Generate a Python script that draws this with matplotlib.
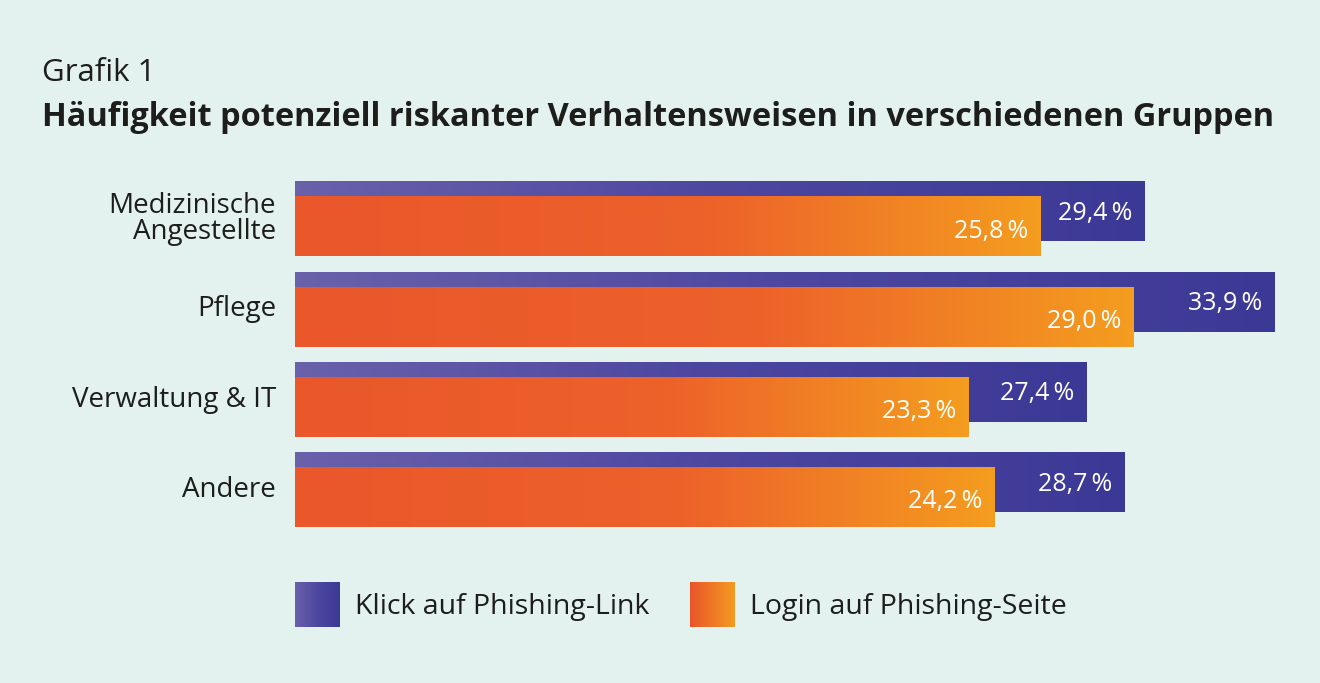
import matplotlib

matplotlib.use("Agg")

import matplotlib.pyplot as plt
import numpy as np
from matplotlib.colors import LinearSegmentedColormap


CATEGORIES = ["Medizinische\nAngestellte", "Pflege", "Verwaltung & IT", "Andere"]
KLICK = [29.4, 33.9, 27.4, 28.7]
LOGIN = [25.8, 29.0, 23.3, 24.2]
SERIES_NAMES = ["Klick auf Phishing-Link", "Login auf Phishing-Seite"]

BG = "#e3f2ef"
TEXT = "#1d1d1b"
PURPLE = LinearSegmentedColormap.from_list("purple", ["#6a61ab", "#4d47a0", "#3c3996"])
ORANGE = LinearSegmentedColormap.from_list(
    "orange", [(0.0, "#e9572b"), (0.55, "#ed612a"), (1.0, "#f49d1f")]
)
ORANGE_KEY = LinearSegmentedColormap.from_list("orange_key", ["#e8552b", "#f49b20"])
FONT = ["Open Sans", "Noto Sans", "DejaVu Sans"]

W, H = 1320, 683
PX_PER_PCT = 28.9
PITCH = 90.3
BAR_H = 0.66
SHIFT = 0.083


def gradient_bar(ax, x0, x1, y0, y1, cmap):
    grad = np.linspace(0, 1, 256).reshape(1, -1)
    ax.imshow(grad, cmap=cmap, aspect="auto", extent=[x0, x1, y1, y0],
              interpolation="bicubic", zorder=2)


def fmt(v):
    return f"{v:.1f}".replace(".", ",") + "\u2009%"


def main():
    plt.rcParams["font.family"] = FONT
    fig = plt.figure(figsize=(W / 100, H / 100), dpi=100, facecolor=BG)

    # axes in pixel coords: left 295 -> right 1300, top 170 -> bottom 550
    ax = fig.add_axes([295 / W, 1 - 550 / H, 1005 / W, 380 / H])
    ax.set_facecolor("none")
    y_top = (170 - 219) / PITCH
    y_bot = (550 - 219) / PITCH
    ax.axis("off")

    for i, (k, l) in enumerate(zip(KLICK, LOGIN)):
        yp = i - SHIFT
        yo = i + SHIFT
        gradient_bar(ax, 0, k, yp - BAR_H / 2, yp + BAR_H / 2, PURPLE)
        gradient_bar(ax, 0, l, yo - BAR_H / 2, yo + BAR_H / 2, ORANGE)
        ax.text(k - 0.42, yp + 0.02, fmt(k), ha="right", va="center",
                color="white", fontsize=18, zorder=3)
        ax.text(l - 0.42, yo + 0.05, fmt(l), ha="right", va="center",
                color="white", fontsize=18, zorder=3)
        ax.text(-0.65, i, CATEGORIES[i], ha="right", va="center", color=TEXT,
                fontsize=20, linespacing=0.9, zorder=3)

    ax.set_xlim(0, 1005 / PX_PER_PCT)
    ax.set_ylim(y_bot, y_top)

    fig.text(42 / W, 1 - 73 / H, "Grafik 1", ha="left", va="center",
             color=TEXT, fontsize=22.5)
    fig.text(42 / W, 1 - 118 / H,
             "Häufigkeit potenziell riskanter Verhaltensweisen in verschiedenen Gruppen",
             ha="left", va="center", color=TEXT, fontsize=23.4, fontweight="bold")

    # legend
    lax = fig.add_axes([0, 0, 1, 1])
    lax.axis("off")
    for x0, cmap, name in [(295, PURPLE, SERIES_NAMES[0]), (690, ORANGE_KEY, SERIES_NAMES[1])]:
        gradient_bar(lax, x0, x0 + 45, 582, 627, cmap)
        lax.text(x0 + 60, 607, name, ha="left", va="center", color=TEXT, fontsize=20.5)
    lax.set_xlim(0, W)
    lax.set_ylim(H, 0)

    fig.savefig("out.png", dpi=100, facecolor=BG)


if __name__ == "__main__":
    main()
